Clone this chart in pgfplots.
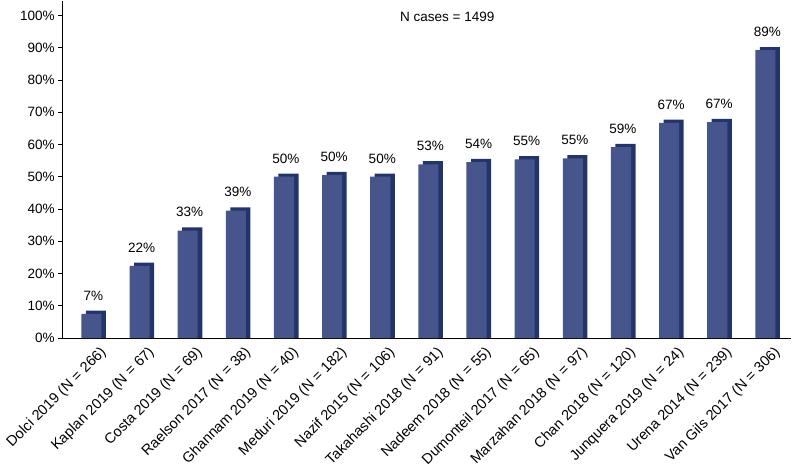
\documentclass[border=0pt]{standalone}
\usepackage{pgfplots}
\pgfplotsset{compat=1.18}
\usepackage{pgfplotstable}
\usepackage{fontspec}
\setmainfont{Liberation Sans}

\definecolor{barfront}{RGB}{70,86,140}
\definecolor{barside}{RGB}{33,53,108}

\pgfplotstableread{
x  v     lab
0  7.5   7
1  22.4  22
2  33.3  33
3  39.5  39
4  50.0  50
5  50.5  50
6  50.0  50
7  53.8  53
8  54.5  54
9  55.4  55
10 55.7  55
11 59.2  59
12 66.7  67
13 66.9  67
14 89.2  89
}\data

\begin{document}
\begin{tikzpicture}
\begin{axis}[
    width=726bp, height=336bp,
    scale only axis,
    xmin=-0.65, xmax=14.5,
    ymin=0, ymax=104.6,
    axis lines*=left,
    axis line style={line width=1.1pt, black},
    ytick={0,10,...,100},
    yticklabel={\pgfmathprintnumber{\tick}\%},
    /pgf/number format/assume math mode=true,
    ytick style={black, line width=0.8pt},
    tick align=outside,
    major tick length=4bp,
    xtick=data,
    xtick style={draw=none},
    xticklabels={Dolci 2019 (N = 266), Kaplan 2019 (N = 67), Costa 2019 (N = 69),
      Raelson 2017 (N = 38), Ghannam 2019 (N = 40), Meduri 2019 (N = 182),
      Nazif 2015 (N = 106), Takahashi 2018 (N = 91), Nadeem 2018 (N = 55),
      Dumonteil 2017 (N = 65), Marzahan 2018 (N = 97), Chan 2018 (N = 120),
      Junquera 2019 (N = 24), Urena 2014 (N = 239), Van Gils 2017 (N = 306)},
    yticklabel style={font=\fontsize{13.5}{15}\selectfont},
    xticklabel style={rotate=45, anchor=north east, xshift=5bp, yshift=-3bp,
      font=\fontsize{14.5}{16}\selectfont},
    ybar, bar width=20bp,
    clip=false,
]
% side / top of the 3D bars
\addplot[fill=barside, draw=none, bar shift=2.5bp]
  table[x=x, y expr=\thisrow{v}+1] {\data};
% front face
\addplot[fill=barfront, draw=none, bar shift=-2bp,
    point meta=explicit symbolic,
    nodes near coords={\pgfplotspointmeta\%},
    every node near coord/.append style={font=\fontsize{13.5}{15}\selectfont,
      anchor=south, yshift=10bp, xshift=2bp}]
  table[x=x, y=v, meta=lab] {\data};
\node[font=\fontsize{13.5}{15}\selectfont] at (axis cs:7.35,99.4) {N cases = 1499};
\end{axis}
\end{tikzpicture}
\end{document}
